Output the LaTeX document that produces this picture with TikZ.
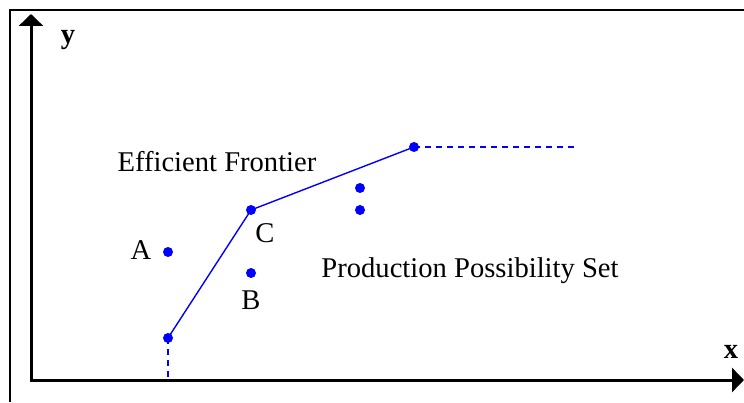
\documentclass[tikz,border=0pt]{standalone}
\usepackage{fontspec}
\setmainfont{Liberation Serif}
\usetikzlibrary{arrows.meta}

\begin{document}
\begin{tikzpicture}[
  x=1pt, y=1pt,
  font=\fontsize{28.6}{32}\selectfont,
  dot/.style   = {circle, fill=blue, inner sep=0pt, minimum size=10pt},
  lbl/.style   = {inner sep=0pt},
  axis/.style  = {line width=3pt,
                  {Triangle[length=12pt,width=24pt]}-{Triangle[length=12pt,width=24pt]}},
  front/.style = {draw=blue, line width=1.4pt},
  ext/.style   = {front, dash pattern=on 6pt off 5pt},
]
\useasboundingbox (0,0) rectangle (744,402);
\draw[line width=1.3pt] (10,0) |- (744,392);

% ---- axes ------------------------------------------------------------------
\coordinate (o)    at (31,22);
\coordinate (yend) at (31,388);
\coordinate (xend) at (744,22);
\draw[axis] (yend) |- (xend);
\node[lbl, font=\fontsize{28.6}{32}\selectfont\bfseries] (ylab) at (68,362) {y};
\node[lbl, font=\fontsize{28.6}{32}\selectfont\bfseries] (xlab) at (731,50)  {x};

% ---- frontier --------------------------------------------------------------
\node[dot] (f1) at (168,64)  {};
\node[dot] (c)  at (251,192) {};
\node[dot] (f3) at (414,255) {};
\coordinate (hend) at (578,255);

\draw[front] (f1.center) -- (c.center) -- (f3.center);
\draw[ext] (f1.center) -- (f1 |- o);
\draw[ext] (f3.center) -- (hend);

% ---- other units -----------------------------------------------------------
\node[dot] (a)  at (168,150) {};
\node[dot] (b)  at (251,129) {};
\node[dot] (d1) at (360,214) {};
\node[dot] (d2) at (360,192) {};

% ---- labels ----------------------------------------------------------------
\node[lbl] (alab) at (141,152) {A};
\node[lbl] (blab) at (251,102) {B};
\node[lbl] (clab) at (265,169) {C};
\node[lbl] (eff)  at (217,240) {Efficient Frontier};
\node[lbl] (pps)  at (470,131) {Production Possibility Set};

\end{tikzpicture}
\end{document}
